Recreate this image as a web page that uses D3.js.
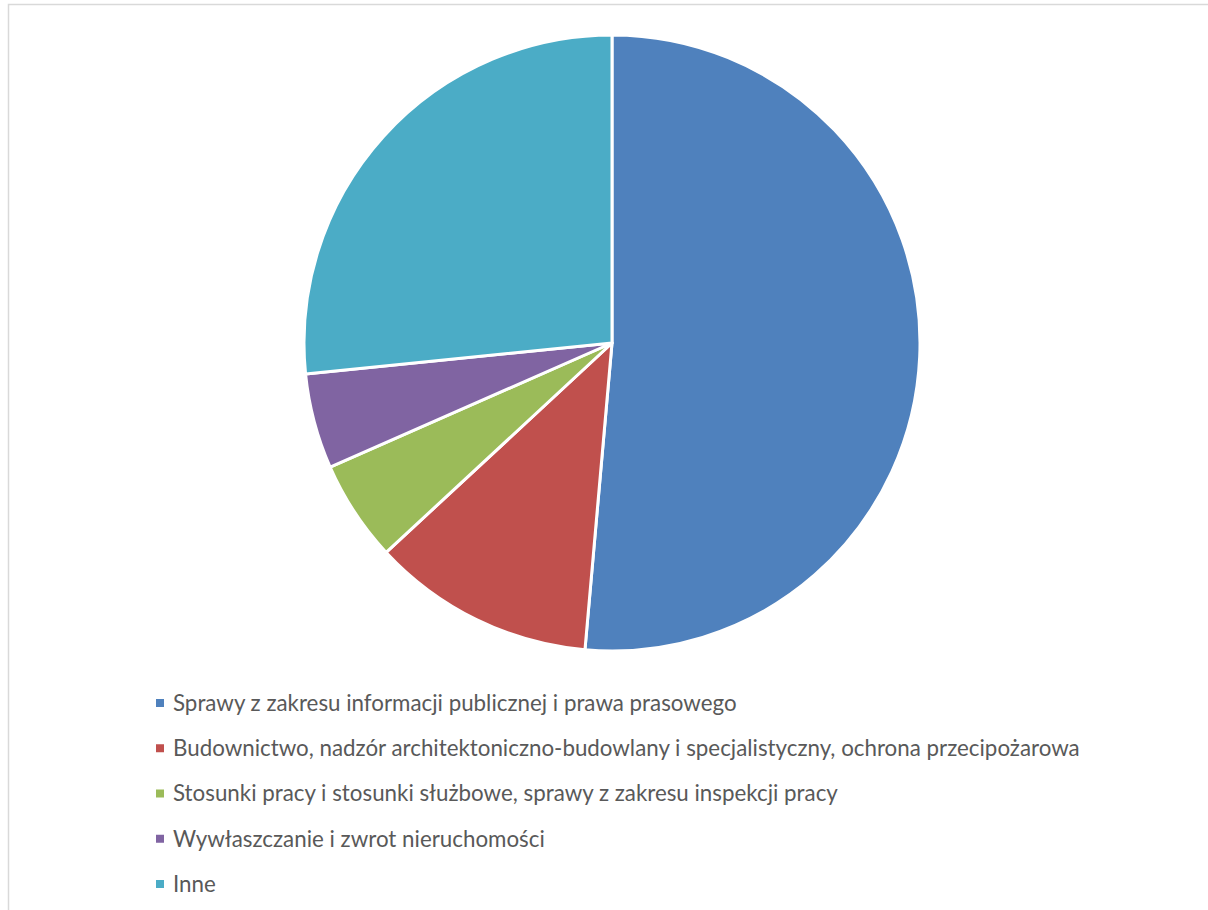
<!DOCTYPE html>
<html><head><meta charset="utf-8">
<script src="https://cdn.jsdelivr.net/npm/d3@7"></script>
<style>body{margin:0;background:#fff}svg{display:block}</style>
</head><body>
<script>
const categories = [
  "Sprawy z zakresu informacji publicznej i prawa prasowego",
  "Budownictwo, nadzór architektoniczno-budowlany i specjalistyczny, ochrona przecipożarowa",
  "Stosunki pracy i stosunki służbowe, sprawy z zakresu inspekcji pracy",
  "Wywłaszczanie i zwrot nieruchomości",
  "Inne"
];
const values = [51.4, 11.7, 5.3, 5.0, 26.6];
const colors = ["#4F81BD", "#C0504D", "#9BBB59", "#8064A2", "#4BACC6"];

const W = 1208, H = 910;
const svg = d3.select("body").append("svg").attr("width", W).attr("height", H);
// chart border
svg.append("path").attr("d", `M8.5,${H} L8.5,4.5 L${W},4.5`)
  .attr("fill", "none").attr("stroke", "#D9D9D9").attr("stroke-width", 1.5);

const cx = 612, cy = 343, r = 308;
const data = categories.map((c, i) => ({name: c, value: values[i], color: colors[i]}));
const pie = d3.pie().value(d => d.value).sort(null);
const arc = d3.arc().innerRadius(0).outerRadius(r);
svg.append("g").attr("transform", `translate(${cx},${cy})`)
  .selectAll("path").data(pie(data)).join("path")
  .attr("d", arc).attr("fill", d => d.data.color)
  .attr("stroke", "#fff").attr("stroke-width", 3).attr("stroke-linejoin", "round");

const leg = svg.append("g");
const rowY = d3.scalePoint().domain(d3.range(categories.length)).range([703, 884]);
const items = leg.selectAll("g").data(data).join("g")
  .attr("transform", (d, i) => `translate(0,${rowY(i)})`);
items.append("rect").attr("x", 156).attr("y", -4).attr("width", 8).attr("height", 8)
  .attr("fill", d => d.color);
const texts = items.append("text").attr("x", 173).attr("y", 0).attr("dy", "0.35em")
  .attr("fill", "#595959").attr("font-family", "Lato, 'Open Sans', sans-serif")
  .attr("font-size", 20).text(d => d.name);
// fit longest line to reference width
const longest = texts.filter((d, i) => i === 1).node();
const w = longest.getComputedTextLength();
const fs = 20 * 907 / w;
texts.attr("font-size", fs);
</script>
</body></html>
